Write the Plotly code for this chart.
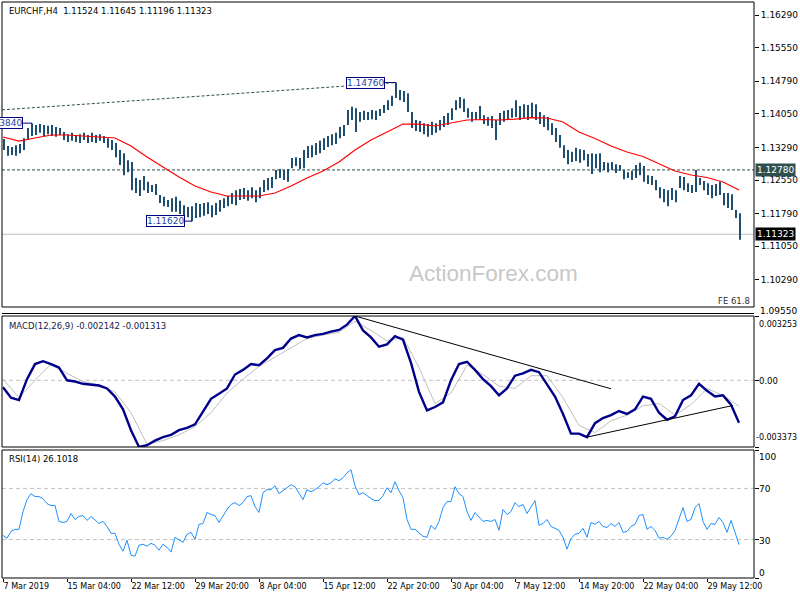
import plotly.graph_objects as go

# ---------------- data ----------------
SYMBOL = "EURCHF,H4"
OHLC_LAST = [1.11524, 1.11645, 1.11196, 1.11323]

# price bars, one value per pair of H4 bars
HIGH = [
    1.1348, 1.1332, 1.1330, 1.1334, 1.1337, 1.1350, 1.1373, 1.1384, 1.1380, 1.1382,
    1.1380, 1.1378, 1.1380, 1.1375, 1.1373, 1.1364, 1.1359, 1.1362, 1.1357, 1.1359,
    1.1362, 1.1357, 1.1362, 1.1357, 1.1359, 1.1355, 1.1350, 1.1346, 1.1339, 1.1323,
    1.1316, 1.1300, 1.1296, 1.1260, 1.1255, 1.1264, 1.1251, 1.1244, 1.1246, 1.1221,
    1.1217, 1.1210, 1.1214, 1.1217, 1.1208, 1.1198, 1.1194, 1.1196, 1.1203, 1.1201,
    1.1203, 1.1205, 1.1198, 1.1203, 1.1210, 1.1214, 1.1219, 1.1226, 1.1232, 1.1235,
    1.1237, 1.1232, 1.1239, 1.1232, 1.1239, 1.1255, 1.1260, 1.1262, 1.1278, 1.1280,
    1.1278, 1.1280, 1.1305, 1.1307, 1.1305, 1.1323, 1.1332, 1.1334, 1.1339, 1.1344,
    1.1350, 1.1355, 1.1359, 1.1362, 1.1375, 1.1380, 1.1414, 1.1421, 1.1418, 1.1409,
    1.1412, 1.1409, 1.1414, 1.1412, 1.1416, 1.1425, 1.1436, 1.1446, 1.1476, 1.1459,
    1.1457, 1.1452, 1.1409, 1.1391, 1.1389, 1.1384, 1.1382, 1.1387, 1.1384, 1.1391,
    1.1400, 1.1407, 1.1418, 1.1436, 1.1443, 1.1439, 1.1418, 1.1409, 1.1409, 1.1423,
    1.1402, 1.1398, 1.1400, 1.1391, 1.1407, 1.1412, 1.1414, 1.1418, 1.1436, 1.1423,
    1.1427, 1.1425, 1.1430, 1.1427, 1.1409, 1.1402, 1.1398, 1.1384, 1.1373, 1.1357,
    1.1334, 1.1323, 1.1319, 1.1328, 1.1325, 1.1323, 1.1314, 1.1316, 1.1314, 1.1316,
    1.1296, 1.1294, 1.1296, 1.1291, 1.1289, 1.1278, 1.1273, 1.1276, 1.1289, 1.1294,
    1.1287, 1.1266, 1.1264, 1.1255, 1.1239, 1.1235, 1.1232, 1.1237, 1.1232, 1.1264,
    1.1262, 1.1248, 1.1244, 1.1278, 1.1260, 1.1253, 1.1248, 1.1244, 1.1246, 1.1251,
    1.1226, 1.1226, 1.1223, 1.1187, 1.1180,
]
LOW = [
    1.1323, 1.1310, 1.1312, 1.1310, 1.1316, 1.1323, 1.1346, 1.1355, 1.1357, 1.1362,
    1.1355, 1.1359, 1.1355, 1.1353, 1.1357, 1.1346, 1.1341, 1.1344, 1.1341, 1.1339,
    1.1346, 1.1339, 1.1341, 1.1339, 1.1344, 1.1339, 1.1328, 1.1323, 1.1307, 1.1289,
    1.1266, 1.1273, 1.1232, 1.1226, 1.1219, 1.1232, 1.1226, 1.1228, 1.1221, 1.1203,
    1.1196, 1.1194, 1.1183, 1.1183, 1.1178, 1.1176, 1.1171, 1.1162, 1.1169, 1.1171,
    1.1174, 1.1178, 1.1171, 1.1176, 1.1183, 1.1192, 1.1196, 1.1201, 1.1198, 1.1210,
    1.1212, 1.1208, 1.1214, 1.1205, 1.1214, 1.1228, 1.1232, 1.1237, 1.1257, 1.1260,
    1.1255, 1.1251, 1.1282, 1.1287, 1.1280, 1.1282, 1.1305, 1.1307, 1.1312, 1.1316,
    1.1323, 1.1330, 1.1334, 1.1337, 1.1350, 1.1355, 1.1380, 1.1391, 1.1364, 1.1387,
    1.1391, 1.1391, 1.1393, 1.1391, 1.1400, 1.1407, 1.1414, 1.1423, 1.1441, 1.1436,
    1.1432, 1.1409, 1.1373, 1.1366, 1.1364, 1.1359, 1.1353, 1.1357, 1.1362, 1.1368,
    1.1375, 1.1380, 1.1391, 1.1414, 1.1418, 1.1409, 1.1396, 1.1387, 1.1391, 1.1393,
    1.1382, 1.1378, 1.1373, 1.1346, 1.1380, 1.1387, 1.1393, 1.1396, 1.1398, 1.1391,
    1.1396, 1.1391, 1.1398, 1.1391, 1.1382, 1.1375, 1.1368, 1.1357, 1.1341, 1.1328,
    1.1305, 1.1291, 1.1296, 1.1298, 1.1294, 1.1300, 1.1285, 1.1269, 1.1282, 1.1273,
    1.1278, 1.1273, 1.1278, 1.1271, 1.1276, 1.1257, 1.1260, 1.1255, 1.1260, 1.1266,
    1.1251, 1.1246, 1.1244, 1.1232, 1.1214, 1.1205, 1.1196, 1.1210, 1.1205, 1.1237,
    1.1232, 1.1228, 1.1226, 1.1228, 1.1244, 1.1232, 1.1221, 1.1214, 1.1219, 1.1221,
    1.1198, 1.1192, 1.1187, 1.1169, 1.11196,
]

# moving average (red), one value every 8 bars
MA = [
    1.13526, 1.13435, 1.13503, 1.13571, 1.13571, 1.13548, 1.13537, 1.13503, 1.13322, 1.13072,
    1.12846, 1.12619, 1.12415, 1.12279, 1.12189, 1.12189, 1.12189, 1.12257, 1.12415, 1.12597,
    1.12755, 1.12959, 1.13231, 1.13458, 1.13639, 1.13820, 1.13820, 1.13775, 1.13843, 1.13911,
    1.13922, 1.13911, 1.13933, 1.13967, 1.13956, 1.13865, 1.13639, 1.13492, 1.13322, 1.13186,
    1.13084, 1.12914, 1.12755, 1.12665, 1.12608, 1.12506, 1.12325,
]

# MACD main line, one value every 4 bars
MACD = [
    -0.000352, -0.000880, -0.000997, 0.000059, 0.000821, 0.000968, 0.000821, 0.000645, 0.0, -0.000059,
    -0.000176, -0.000205, -0.000264, -0.000410, -0.000821, -0.001466, -0.002522, -0.003373, -0.003284, -0.003049,
    -0.002873, -0.002756, -0.002522, -0.002404, -0.002228, -0.001583, -0.000938, -0.000674, -0.000410, 0.000293,
    0.000528, 0.000821, 0.000762, 0.001114, 0.001525, 0.001642, 0.002111, 0.002287, 0.002170, 0.002287,
    0.002346, 0.002463, 0.002551, 0.002815, 0.003253, 0.002522, 0.002170, 0.001701, 0.001818, 0.002228,
    0.002052, 0.000880, -0.000586, -0.001525, -0.001349, -0.001114, 0.0, 0.000821, 0.000938, 0.000528,
    0.000059, -0.000293, -0.000762, -0.000410, 0.000235, 0.000352, 0.000528, 0.000410, -0.000176, -0.000821,
    -0.001701, -0.002697, -0.002697, -0.002873, -0.002170, -0.001906, -0.001759, -0.001554, -0.001701, -0.001466,
    -0.000821, -0.000938, -0.001642, -0.001994, -0.001818, -0.000997, -0.000762, -0.000176, -0.000528, -0.000821,
    -0.000762, -0.001231, -0.002142,
]
# MACD signal line, one value every 8 bars
SIGNAL = [
    0.000059, -0.000880, 0.0, 0.000821, 0.000352, -0.000059, -0.000235, -0.000586, -0.001642, -0.003225,
    -0.003049, -0.002756, -0.002346, -0.001642, -0.000645, 0.000059, 0.000704, 0.001173, 0.001642, 0.002111,
    0.002287, 0.002434, 0.002991, 0.002522, 0.001994, 0.002170, 0.000645, -0.001173, -0.000645, 0.000762,
    0.000293, -0.000293, -0.000410, 0.000235, 0.000235, -0.000880, -0.002287, -0.002639, -0.002052, -0.001759,
    -0.001290, -0.001173, -0.001759, -0.001231, -0.000410, -0.000762, -0.001313,
]
MACD_MAX, MACD_MIN = 0.003253, -0.003373

# RSI(14), one value every 2 bars
RSI = [
    33.3, 31.0, 36.4, 38.0, 38.0, 51.9, 61.2, 65.9, 63.6, 63.6,
    62.0, 58.1, 56.6, 56.6, 44.2, 43.4, 44.2, 50.4, 45.7, 48.1,
    48.8, 45.0, 48.1, 45.0, 42.6, 44.2, 40.3, 34.9, 34.9, 26.4,
    20.9, 29.5, 17.8, 17.1, 25.6, 26.4, 24.8, 27.1, 25.6, 21.7,
    26.4, 24.0, 20.2, 31.8, 29.5, 27.9, 34.1, 35.7, 30.2, 41.9,
    42.6, 51.2, 49.6, 48.8, 43.4, 48.8, 53.5, 57.4, 58.9, 56.6,
    58.9, 63.6, 64.3, 55.8, 51.2, 66.7, 69.0, 69.0, 72.1, 65.9,
    68.2, 70.5, 72.9, 71.3, 65.9, 61.2, 69.0, 67.4, 69.0, 71.3,
    74.4, 72.9, 74.4, 77.5, 76.0, 78.3, 82.2, 84.5, 72.1, 65.1,
    66.7, 64.3, 62.0, 60.5, 60.5, 64.3, 70.5, 66.7, 75.2, 68.2,
    62.8, 45.7, 38.0, 38.0, 34.9, 32.6, 31.8, 41.1, 38.0, 44.2,
    55.0, 59.7, 59.7, 71.3, 65.9, 63.6, 51.9, 45.0, 51.2, 47.3,
    44.2, 45.0, 44.2, 45.7, 37.2, 53.5, 49.6, 51.9, 58.9, 55.8,
    57.4, 50.4, 55.0, 60.5, 41.1, 42.6, 45.7, 40.3, 38.8, 37.2,
    31.8, 22.5, 31.0, 34.1, 34.9, 38.8, 31.8, 43.4, 41.9, 44.2,
    40.3, 39.5, 42.6, 40.3, 43.4, 35.7, 36.4, 40.3, 41.9, 48.8,
    49.6, 38.0, 40.3, 37.2, 31.0, 31.8, 30.2, 32.6, 37.2, 45.7,
    55.0, 44.2, 45.7, 55.0, 58.1, 44.2, 38.0, 42.6, 41.9, 47.3,
    43.4, 35.7, 45.0, 35.7, 26.1,
]
RSI_LAST = 26.1018

PRICE_TICKS = [1.16290, 1.15550, 1.14790, 1.14050, 1.13290, 1.12550, 1.11790, 1.11050, 1.10290]
PRICE_LOW_LABEL = 1.09550
LEVEL = 1.12780
TREND_START = 1.1414
# MACD trendlines (bar index, value)
TL1_X, TL1_Y = [176, 304], [0.003253, -0.000428]
TL2_X, TL2_Y = [292, 365], [-0.002873, -0.001273]

TIME_LABELS = ["7 Mar 2019", "15 Mar 04:00", "22 Mar 12:00", "29 Mar 20:00", "8 Apr 04:00",
               "15 Apr 12:00", "22 Apr 20:00", "30 Apr 04:00", "7 May 12:00", "14 May 20:00",
               "22 May 04:00", "29 May 12:00"]
BARS_PER_LABEL = 32

# ---------------- figure ----------------
FONT = "DejaVu Sans"
BAR_C = "#1f4f70"
fig = go.Figure()

bar_x = [2 * k + 0.5 for k in range(len(HIGH))]
xs, ys = [], []
for x, h, l in zip(bar_x, HIGH, LOW):
    xs += [x, x, None]
    ys += [l, h, None]
fig.add_trace(go.Scatter(x=xs, y=ys, mode="lines", line=dict(color=BAR_C, width=2),
                         yaxis="y3", hoverinfo="skip"))
fig.add_trace(go.Scatter(x=[8 * j for j in range(len(MA))], y=MA, mode="lines",
                         line=dict(color="#ff0000", width=1.2), yaxis="y3"))

hi_i = max(range(len(HIGH)), key=lambda i: HIGH[i])
lo_i = min(range(120), key=lambda i: LOW[i])
h0_i = max(range(20), key=lambda i: HIGH[i])

# dotted trendline into the high
fig.add_trace(go.Scatter(x=[-0.5, bar_x[hi_i]], y=[TREND_START, HIGH[hi_i]], mode="lines",
                         line=dict(color="#2f4f4f", width=1, dash="3px,2px"), yaxis="y3"))

# label connectors
SWINGS = [(bar_x[hi_i], HIGH[hi_i], 5.5), (bar_x[lo_i], LOW[lo_i], 3.5), (bar_x[h0_i], HIGH[h0_i], 4.5)]
for xi, val, off in SWINGS:
    fig.add_trace(go.Scatter(x=[xi - off, xi], y=[val, val], mode="lines",
                             line=dict(color="#000080", width=1), yaxis="y3"))

# MACD
fig.add_trace(go.Scatter(x=[8 * j for j in range(len(SIGNAL))], y=SIGNAL, mode="lines",
                         line=dict(color="#c0c0c0", width=1), yaxis="y2"))
fig.add_trace(go.Scatter(x=[4 * j for j in range(len(MACD))], y=MACD, mode="lines",
                         line=dict(color="#00008b", width=2.4), yaxis="y2"))
fig.add_trace(go.Scatter(x=TL1_X, y=TL1_Y, mode="lines", line=dict(color="black", width=1), yaxis="y2"))
fig.add_trace(go.Scatter(x=TL2_X, y=TL2_Y, mode="lines", line=dict(color="black", width=1), yaxis="y2"))

# RSI
fig.add_trace(go.Scatter(x=[2 * m for m in range(len(RSI))], y=RSI, mode="lines",
                         line=dict(color="#1e90ff", width=1), yaxis="y"))

# domains (pixel layout of the 800x600 page)
H = 576.0
def py(px):
    return (578 - px) / H

D_MAIN = [py(307), 1.0]
D_MACD = [py(447), py(316)]
D_RSI = [0.0, py(450)]
P_TOP = 1.16290 + 13 / 4414.0
P_BOT = 1.16290 - 292 / 4414.0

shapes = []
def hline(yref, yv, color, dash=None, width=1):
    shapes.append(dict(type="line", xref="paper", x0=0, x1=1, yref=yref, y0=yv, y1=yv,
                       line=dict(color=color, width=width, dash=dash), layer="below"))

hline("y3", LEVEL, "#2f4f4f", "3px,2px")
hline("y3", OHLC_LAST[3], "#c0c0c0")
hline("y2", 0, "#c0c0c0", "4px,3px")
hline("y", 70, "#c0c0c0", "4px,3px")
hline("y", 30, "#c0c0c0", "4px,3px")
for d in (D_MAIN, D_MACD, D_RSI):
    shapes.append(dict(type="rect", xref="paper", yref="paper", x0=0, x1=1, y0=d[0], y1=d[1],
                       line=dict(color="black", width=1), layer="above"))
shapes.append(dict(type="line", xref="paper", yref="paper", x0=0, x1=1, y0=py(313.5), y1=py(313.5),
                   line=dict(color="black", width=1), layer="above"))

ann = []
def text(x, y, s, size=8.5, color="black", xanchor="left", yanchor="middle", xref="paper", yref="paper", **kw):
    ann.append(dict(x=x, y=y, xref=xref, yref=yref, text=s, showarrow=False, xanchor=xanchor,
                    yanchor=yanchor, font=dict(family=FONT, size=size, color=color), **kw))

text(5 / 752, py(11), SYMBOL + "\u00a0\u00a0" + " ".join(f"{v:.5f}" for v in OHLC_LAST))
text(5 / 752, py(326), f"MACD(12,26,9) {MACD[-1]:.6f} {SIGNAL[-1]:.6f}", color="#14204a")
text(5 / 752, py(459), f"RSI(14) {RSI_LAST:.4f}")
text((493 - 2) / 752, py(273), "ActionForex.com", size=22.5, color="#c8c8c8", xanchor="center")
ann[-1]["font"]["family"] = "Liberation Sans"
text((752 - 2) / 752, py(301), "FE 61.8", size=8.5, color="#303030", xanchor="right")

# swing labels
for xi, val, off in SWINGS:
    text(xi - off, val, f"{val:.5f}", size=9, color="#1f3fa0", xanchor="right", xref="x", yref="y3",
         bgcolor="white", bordercolor="#000080", borderwidth=1, borderpad=0)

# right-axis labels
text(1, LEVEL, f"{LEVEL:.5f}", size=9, color="white", xref="paper", yref="y3", xshift=1,
     bgcolor="#2f4f4f", borderpad=1)
text(1, OHLC_LAST[3], f"{OHLC_LAST[3]:.5f}", size=9, color="white", xref="paper", yref="y3", xshift=1,
     bgcolor="black", borderpad=1)
text(1, py(311), f"{PRICE_LOW_LABEL:.5f}", size=9, xshift=4)
text(1, py(324.7), f"{MACD_MAX:.6f}", size=8, xshift=3)
text(1, py(381), "0.00", size=8.5, xshift=3)
text(1, py(437.7), f"{MACD_MIN:.6f}", size=8, xshift=0)
for v, ypx in [(100, 456.7), (70, 489.3), (30, 540.7), (0, 572.7)]:
    text(1, py(ypx), str(v), size=9, xshift=3)

axis_common = dict(showgrid=False, zeroline=False, side="right", anchor="x", ticks="outside",
                   ticklen=4, tickcolor="black", tickwidth=1, showline=False)

fig.update_layout(
    width=800, height=600, margin=dict(l=2, r=46, t=2, b=22, autoexpand=False),
    paper_bgcolor="white", plot_bgcolor="white", showlegend=False,
    xaxis=dict(range=[-0.5, 375.5], domain=[0, 1], anchor="y", showgrid=False, zeroline=False,
               tickvals=[BARS_PER_LABEL * i for i in range(len(TIME_LABELS))], ticktext=TIME_LABELS,
               ticks="outside", ticklen=3, tickcolor="black", ticklabelposition="outside right",
               tickfont=dict(family=FONT, size=8, color="black"), showline=False),
    yaxis=dict(domain=D_RSI, range=[0, 100], tickvals=[0, 30, 70, 100], showticklabels=False, **axis_common),
    yaxis2=dict(domain=D_MACD, range=[MACD_MIN, MACD_MAX], tickvals=[MACD_MIN, 0, MACD_MAX],
                showticklabels=False, **axis_common),
    yaxis3=dict(domain=D_MAIN, range=[P_BOT, P_TOP], tickvals=PRICE_TICKS,
                ticktext=[f"{v:.5f}" for v in PRICE_TICKS],
                tickfont=dict(family=FONT, size=9, color="black"), **axis_common),
    shapes=shapes, annotations=ann,
)

fig.write_html("out.html", config={"displayModeBar": False},
               post_script="document.body.style.margin='0px';document.body.style.overflow='hidden';")
